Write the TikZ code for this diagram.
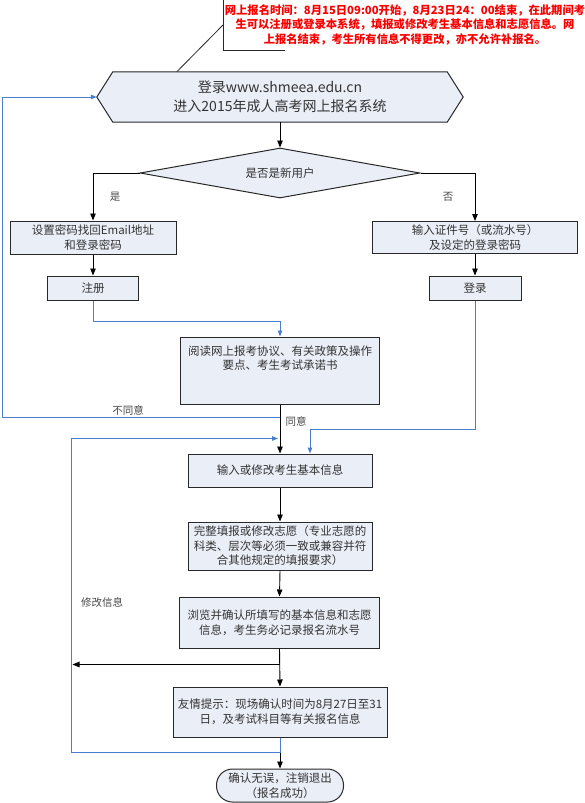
\documentclass[tikz,border=0pt]{standalone}
\usepackage{fontspec}
\setmainfont{Noto Sans CJK SC}
\usetikzlibrary{arrows.meta,shapes.geometric,calc,backgrounds}
\definecolor{boxfill}{RGB}{234,238,247}
\definecolor{boxline}{RGB}{40,40,40}
\definecolor{linkblue}{RGB}{74,126,205}
\definecolor{txt}{RGB}{51,51,51}
\definecolor{callred}{RGB}{250,0,0}
\newcommand\fbxfont{\fontsize{11.5pt}{14.5pt}\selectfont}
\newcommand\fhxfont{\fontsize{14pt}{19pt}\selectfont}
\newcommand\fclfont{\fontsize{11.3pt}{14.5pt}\selectfont\bfseries}
\newcommand\flbfont{\fontsize{10.5pt}{12pt}\selectfont}
\tikzset{
  box/.style={rectangle, draw=boxline, line width=1pt, fill=boxfill, inner sep=0pt,
    align=center, text=txt, font=\fbxfont},
  plaintext/.style={inner sep=0pt, align=center, text=txt, font=\fbxfont},
  lbl/.style={inner sep=0pt, text=txt!90, font=\flbfont},
  arr/.style={draw=black, line width=0.9pt, -{Triangle[length=7pt,width=5.5pt]}},
  blk/.style={draw=black, line width=0.9pt},
  barr/.style={draw=linkblue, line width=1pt, -{Triangle[length=6pt,width=4.5pt]}},
  bln/.style={draw=linkblue, line width=1pt},
}
\begin{document}
\begin{tikzpicture}[x=1pt,y=-1pt]
\useasboundingbox (0,0) rectangle (585,803);

% callout note
\node[inner sep=0pt, align=center, text=callred, font=\fclfont] (note) at (405,25)
  {网上报名时间：8月15日09:00开始，8月23日24：00结束，在此期间考\\生可以注册或登录本系统，填报或修改考生基本信息和志愿信息。网\\上报名结束，考生所有信息不得更改，亦不允许补报名。};
\draw[boxline, line width=0.9pt] (223,0) -- (223,50) -- (285,50);
\coordinate (cp) at (223,25);

% hexagon start
\node[plaintext, font=\fhxfont, minimum width=334pt, minimum height=50pt] (hex) at (280,97)
  {登录www.shmeea.edu.cn\\进入2015年成人高考网上报名系统};
\coordinate (hexL) at ($(hex.west)+(-16,0)$);
\coordinate (hexR) at ($(hex.east)+(16,0)$);
\begin{scope}[on background layer]
\draw[draw=boxline, fill=boxfill, line width=1pt] (hex.north west) -- (hex.north east) -- (hexR)
  -- (hex.south east) -- (hex.south west) -- (hexL) -- cycle;
\end{scope}
\draw[boxline, line width=0.8pt] (cp) -- ($(hex.north west)+(64,0)$);

% decision
\node[diamond, draw=boxline, line width=1pt, fill=boxfill, inner sep=0pt, aspect=5.6,
  minimum width=280pt, minimum height=50pt, text=txt, font=\fbxfont] (dia) at (280,173) {是否是新用户};

% branches
\node[box, minimum width=166pt, minimum height=33pt] (b1) at (93,237.5) {设置密码找回Email地址\\和登录密码};
\node[box, minimum width=91pt, minimum height=24pt] (b2) at (93,288) {注册};
\node[box, minimum width=205pt, minimum height=32pt] (b3) at (475,237.5) {输入证件号（或流水号）\\及设定的登录密码};
\node[box, minimum width=92pt, minimum height=24pt] (b4) at (475,288) {登录};

% main column
\node[box, minimum width=199pt, minimum height=67pt] (read) at (280,370.5) {};
\node[plaintext, anchor=north] (readtxt) at ($(read.north)+(0,9)$)
  {阅读网上报考协议、有关政策及操作\\要点、考生考试承诺书};
\node[box, minimum width=184pt, minimum height=33pt] (in1) at (280,470.5) {输入或修改考生基本信息};
\node[box, minimum width=184pt, minimum height=48pt] (wz) at (280,546)
  {完整填报或修改志愿（专业志愿的\\科类、层次等必须一致或兼容并符\\合其他规定的填报要求）};
\node[box, minimum width=200pt, minimum height=51pt] (ll) at (279.5,622.5)
  {浏览并确认所填写的基本信息和志愿\\信息，考生务必记录报名流水号};
\node[box, minimum width=214pt, minimum height=50pt] (yq) at (280,712)
  {友情提示：现场确认时间为8月27日至31\\日，及考试科目等有关报名信息};
\node[box, rounded corners=16pt, minimum width=127pt, minimum height=33pt] (fin) at (280,785.5)
  {确认无误，注销退出\\（报名成功）};

% labels
\node[lbl] (lyes) at (115,197) {是};
\node[lbl] (lno) at (448,197) {否};
\node[lbl] (ldis) at (128,410) {不同意};
\node[lbl] (lagr) at (296,421) {同意};
\node[lbl] (lmod) at (102,602) {修改信息};

% coordinates
\coordinate (leftrail) at (2,0);
\coordinate (dis) at ($(read.south)+(0,13)$);
\coordinate (loopin) at ($(in1.north)+(-2,-15)$);
\coordinate (loopbot) at ($(yq.south)+(0,15)$);
\coordinate (branch) at ($(ll.south)+(0,16)$);

% black connectors
\draw[arr] (hex.south) -- (dia.north);
\draw[arr] (dia.west) -| (b1.north);
\draw[arr] (dia.east) -| (b3.north);
\draw[arr] (b1.south) -- (b2.north);
\draw[arr] (b3.south) -- (b4.north);
\draw[arr] (read.south) -- (in1.north);
\draw[arr] (in1.south) -- (wz.north);
\draw[arr] (wz.south) -- (ll.north);
\draw[arr] (ll.south) -- (yq.north);
\draw[arr] (branch) -- ++(-207,0);
\draw[arr] (loopbot) -- (fin.north);

% blue connectors
\draw[barr] (b2.south) -- ++(0,21) -| (read.north);
\draw[barr] (dis) -- (dis -| leftrail) |- (hexL);
\draw[barr] (b4.south) -- ++(0,129) -| ($(in1.north)+(30,0)$);
\draw[barr] (yq.south) -- (loopbot) -- ++(-209,0) |- (loopin);
\end{tikzpicture}
\end{document}
